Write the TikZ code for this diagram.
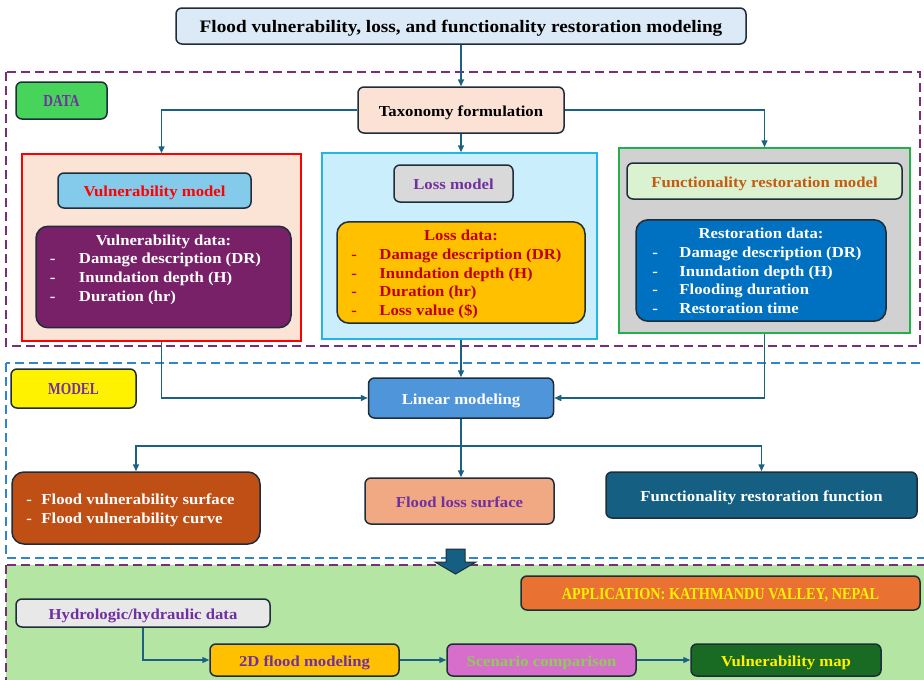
\documentclass[tikz,border=0pt]{standalone}
\usepackage{fontspec}
\setmainfont{Liberation Serif}
\newfontfamily\wfont[FakeStretch=1.1]{Liberation Serif Bold}
\newfontfamily\capfont[FakeStretch=0.8]{Liberation Serif Bold}
\newfontfamily\appfont[FakeStretch=0.85]{Liberation Serif Bold}
\usetikzlibrary{arrows.meta,positioning}
\definecolor{arrowc}{HTML}{1B6184}
\definecolor{edgec}{HTML}{1E2D3A}
\definecolor{dashp}{HTML}{7A2E7A}
\definecolor{dashb}{HTML}{2E86CF}
\definecolor{labelc}{HTML}{7030A0}
\definecolor{titlef}{HTML}{DCEAF7}
\definecolor{dataf}{HTML}{47D45A}
\definecolor{taxf}{HTML}{FBE2D5}
\definecolor{vpanelf}{HTML}{FBE3D6}
\definecolor{vmodelf}{HTML}{83CAEB}
\definecolor{vdataf}{HTML}{782169}
\definecolor{lpanelf}{HTML}{CAEEFB}
\definecolor{lpaneld}{HTML}{22B5E8}
\definecolor{lmodelf}{HTML}{D9D9D9}
\definecolor{ldataf}{HTML}{FFC000}
\definecolor{ldatat}{HTML}{C00000}
\definecolor{rpanelf}{HTML}{D1D1D1}
\definecolor{rpaneld}{HTML}{22B04A}
\definecolor{rmodelf}{HTML}{DAF2D0}
\definecolor{rmodelt}{HTML}{C55A11}
\definecolor{rdataf}{HTML}{0070C0}
\definecolor{linearf}{HTML}{4E95D9}
\definecolor{fvulnf}{HTML}{C04F15}
\definecolor{flossf}{HTML}{F1A983}
\definecolor{ffuncf}{HTML}{156082}
\definecolor{appbg}{HTML}{B4E5A2}
\definecolor{applf}{HTML}{E97132}
\definecolor{hydrof}{HTML}{E8E8E8}
\definecolor{scenf}{HTML}{D86ECC}
\definecolor{scent}{HTML}{8FCB5A}
\definecolor{vmapf}{HTML}{196B24}
\newcommand{\dstrut}{\rule{0pt}{17pt}}
\begin{document}
\begin{tikzpicture}[x=1pt,y=-1pt,
        every node/.style={font=\wfont\fontsize{15.2}{18.7}\selectfont},
        boxn/.style={draw=edgec, line width=1.5pt, rounded corners=6pt, align=center, inner sep=2pt},
        onel/.style={boxn, text height=12pt, text depth=0pt},
        capn/.style={onel, font=\capfont\fontsize{16.8}{20}\selectfont},
        bigbox/.style={boxn, rounded corners=12pt},
        panel/.style={line width=1.5pt, inner sep=0pt},
        region/.style={dash pattern=on 9pt off 5pt, line width=1.8pt},
        flow/.style={->, draw=arrowc, line width=1.5pt},
        thinflow/.style={flow, line width=1.2pt},
        >={Triangle[length=7pt,width=6pt]},
    ]
    \clip (0,0) rectangle (924,680);
    \fill[white] (0,0) rectangle (924,680);
    \draw[region, draw=dashp] (6,72) rectangle (920,346);
    \draw[region, draw=dashb] (6,363) rectangle (940,558);
    \draw[region, draw=dashp, fill=appbg] (6,565) rectangle (940,700);

    \node[onel, fill=titlef, minimum width=570, minimum height=36, font=\wfont\fontsize{17.5}{20}\selectfont] (title) at (461,26) {Flood vulnerability, loss, and functionality restoration modeling};
    \node[capn, fill=dataf, text=labelc, minimum width=91, minimum height=37] (datal) at (61.5,100.5) {DATA};
    \node[onel, fill=taxf, minimum width=206, minimum height=46] (tax) at (461,110) {Taxonomy formulation};

    \node[panel, draw=red, fill=vpanelf, minimum width=279, minimum height=187] (vpanel) at (161.5,247.5) {};
    \node[onel, fill=vmodelf, text=red, minimum width=193, minimum height=35] (vmodel) at (154.5,190.5) {Vulnerability model};
    \node[bigbox, fill=vdataf, text=white, minimum width=255, minimum height=96] (vdata) at (163.5,277) {%
        \begin{tabular}{@{}p{29pt}@{}l@{}p{16pt}@{}}
        \multicolumn{3}{c}{\dstrut Vulnerability data:}\\
        - & Damage description (DR) &\\
        - & Inundation depth (H) &\\
        - & Duration (hr) &\\
        & &
        \end{tabular}};

    \node[panel, draw=lpaneld, fill=lpanelf, minimum width=275, minimum height=186] (lpanel) at (459.5,246) {};
    \node[onel, fill=lmodelf, text=labelc, minimum width=119, minimum height=37] (lmodel) at (453.5,183.5) {Loss model};
    \node[bigbox, fill=ldataf, text=ldatat, minimum width=248, minimum height=101] (ldata) at (461,272.5) {%
        \begin{tabular}{@{}p{28pt}@{}l@{}p{9pt}@{}}
        \multicolumn{3}{c}{\dstrut Loss data:}\\
        - & Damage description (DR) &\\
        - & Inundation depth (H) &\\
        - & Duration (hr) &\\
        - & Loss value (\$) &
        \end{tabular}};

    \node[panel, draw=rpaneld, fill=rpanelf, minimum width=291, minimum height=185] (rpanel) at (764.5,240.5) {};
    \node[onel, fill=rmodelf, text=rmodelt, minimum width=275, minimum height=36] (rmodel) at (764.5,181) {Functionality restoration model};
    \node[bigbox, fill=rdataf, text=white, minimum width=250, minimum height=101] (rdata) at (761,270.5) {%
        \begin{tabular}{@{}p{27pt}@{}l@{}p{8pt}@{}}
        \multicolumn{3}{c}{\dstrut Restoration data:}\\
        - & Damage description (DR) &\\
        - & Inundation depth (H) &\\
        - & Flooding duration &\\
        - & Restoration time &
        \end{tabular}};

    \node[capn, fill=yellow, text=labelc, minimum width=125, minimum height=39] (modell) at (73.5,388.5) {MODEL};
    \node[onel, fill=linearf, text=white, minimum width=185, minimum height=40] (linear) at (461,398) {Linear modeling};
    \node[bigbox, fill=fvulnf, text=white, minimum width=248, minimum height=72] (fvuln) at (136,508) {%
        \begin{tabular}{@{}p{15pt}@{}l@{}p{11pt}@{}}
        \dstrut - & Flood vulnerability surface &\\
        - & Flood vulnerability curve &
        \end{tabular}};
    \node[onel, fill=flossf, text=labelc, minimum width=189, minimum height=46] (floss) at (459.5,501) {Flood loss surface};
    \node[onel, fill=ffuncf, text=white, minimum width=311, minimum height=46] (ffunc) at (761.5,495) {Functionality restoration function};

    \filldraw[fill=ffuncf, draw=edgec, line width=1pt] (446,549) -- (465,549) -- (465,562) -- (476,562) -- (455.5,574) -- (435,562) -- (446,562) -- cycle;

    \node[capn, fill=applf, text=yellow, minimum width=399, minimum height=34, font=\appfont\fontsize{16.8}{20}\selectfont] (appl) at (720.5,593) {APPLICATION: KATHMANDU VALLEY, NEPAL};
    \node[onel, fill=hydrof, text=labelc, minimum width=254, minimum height=28] (hydro) at (143,613) {Hydrologic/hydraulic data};
    \node[onel, fill=ldataf, text=labelc, minimum width=189, minimum height=32] (flood2d) at (304.5,660) {2D flood modeling};
    \node[onel, fill=scenf, text=scent, minimum width=189, minimum height=32] (scen) at (541.5,660) {Scenario comparison};
    \node[onel, fill=vmapf, text=yellow, minimum width=190, minimum height=32] (vmap) at (786,660) {Vulnerability map};

    \draw[flow] (title) -- (tax);
    \draw[flow] (tax.west) -| (vpanel.north);
    \draw[flow] (tax.east) -| (rpanel.north);
    \draw[flow] (tax.south) -- (tax.south |- lpanel.north);
    \draw[flow] (vpanel.south) |- (linear.west);
    \draw[flow] (linear.north |- lpanel.south) -- (linear.north);
    \draw[flow] (rpanel.south) |- (linear.east);
    \draw[flow] (linear.south) -- (linear.south |- floss.north);
    \draw[flow] (linear.south) -- ++(0,27) -| (fvuln.north);
    \draw[flow] (linear.south) -- ++(0,27) -| (ffunc.north);
    \draw[thinflow] (hydro.south) |- (flood2d.west);
    \draw[thinflow] (flood2d) -- (scen);
    \draw[thinflow] (scen) -- (vmap);
\end{tikzpicture}
\end{document}
